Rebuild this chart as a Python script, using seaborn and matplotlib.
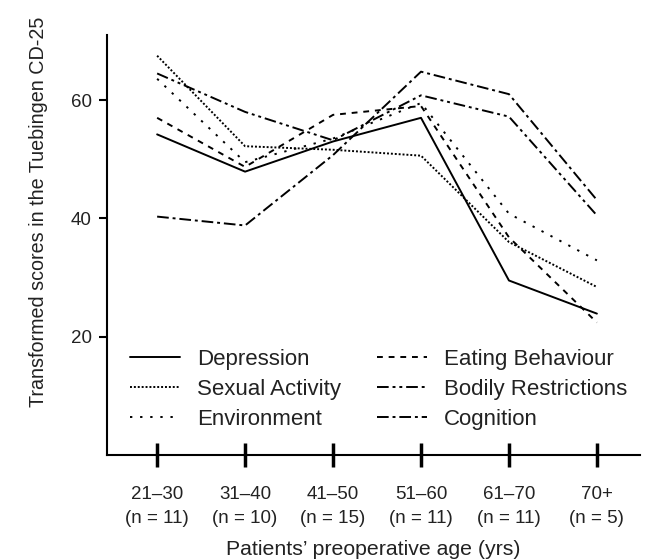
import pandas as pd
import seaborn as sns
import matplotlib.pyplot as plt

age_groups = ["21\u201330\n(n = 11)", "31\u201340\n(n = 10)", "41\u201350\n(n = 15)",
              "51\u201360\n(n = 11)", "61\u201370\n(n = 11)", "70+\n(n = 5)"]

depression = [54.2, 47.9, 53.0, 57.0, 29.5, 23.9]
sexual_activity = [67.5, 52.2, 51.6, 50.6, 36.0, 28.4]
environment = [63.6, 49.5, 53.5, 59.5, 40.8, 32.9]
eating_behaviour = [57.0, 48.7, 57.5, 59.0, 36.8, 22.4]
bodily_restrictions = [64.5, 58.0, 53.2, 60.8, 57.2, 40.5]
cognition = [40.3, 38.8, 50.7, 64.8, 61.0, 43.1]

scales = {
    "Depression": depression,
    "Sexual Activity": sexual_activity,
    "Environment": environment,
    "Eating Behaviour": eating_behaviour,
    "Bodily Restrictions": bodily_restrictions,
    "Cognition": cognition,
}

rows = []
for name, vals in scales.items():
    for i, v in enumerate(vals):
        rows.append({"pos": i, "score": v, "scale": name})
df = pd.DataFrame(rows)

dashes = {
    "Depression": "",
    "Sexual Activity": (1, 1),
    "Environment": (1.2, 4),
    "Eating Behaviour": (3, 3),
    "Bodily Restrictions": (6, 2, 1.5, 2, 1.5, 2),
    "Cognition": (6, 2, 1.5, 2),
}

sns.set_style("white")
plt.rcParams["font.family"] = ["Liberation Sans", "DejaVu Sans"]

fig = plt.figure(figsize=(6.45, 5.6), dpi=100)
ax = fig.add_axes([107 / 645, 1 - 455 / 560, 533 / 645, 420 / 560])

sns.lineplot(data=df, x="pos", y="score", style="scale", style_order=list(scales),
             dashes=dashes, color="black", linewidth=1.4, ax=ax, legend=True)

ax.set_xlim(-0.57, 5.49)
ax.set_ylim(0, 71)
ax.set_yticks([20, 40, 60])
ax.set_xticks(range(len(age_groups)))
ax.set_xticklabels(age_groups, linespacing=1.5)

sns.despine(ax=ax)
for s in ["left", "bottom"]:
    ax.spines[s].set_linewidth(1.5)
    ax.spines[s].set_color("black")

ax.tick_params(axis="x", direction="inout", length=17, width=2.5, color="black",
               pad=14, labelsize=13.5, labelcolor="#222222")
ax.tick_params(axis="y", direction="out", length=6, width=1.5, color="black",
               pad=5, labelsize=13.5, labelcolor="#222222")
ax.tick_params(axis="x", bottom=True)
ax.tick_params(axis="y", left=True)

ax.set_ylabel("Transformed scores in the Tuebingen CD-25", fontsize=14.2, color="#222222")
ax.set_xlabel("Patients\u2019 preoperative age (yrs)", fontsize=15.3, color="#222222")
ax.yaxis.set_label_coords(-0.11, 0.58)
ax.xaxis.set_label_coords(0.5, -0.202)

handles, labels = ax.get_legend_handles_labels()
ax.legend(handles, labels, ncol=2, frameon=False, loc="upper left",
          bbox_to_anchor=(0.043, 0.252), borderpad=0, borderaxespad=0,
          handlelength=2.25, handletextpad=0.77, labelspacing=0.4,
          columnspacing=1.6, fontsize=16, labelcolor="#222222")

fig.savefig("out.png", dpi=100)
